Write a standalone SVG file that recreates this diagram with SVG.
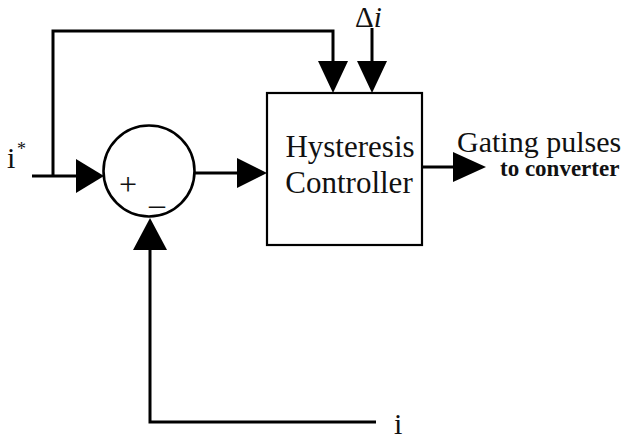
<svg xmlns="http://www.w3.org/2000/svg" width="633" height="439" viewBox="0 0 633 439">
<style>
.ln{fill:none;stroke:#000;stroke-width:3}
.ah{fill:#000;stroke:none}
.box{fill:#fff;stroke:#000;stroke-width:2.2}
.t{font-family:"Liberation Serif","Times New Roman",serif;fill:#111}
</style>
<rect width="633" height="439" fill="#fff"/>
<g id="connectors">
<polyline class="ln" points="32,176 78,176"/>
<polygon class="ah" points="104,176 76,159 76,193"/>
<polyline class="ln" points="53,176 53,31 333,31 333,63"/>
<polygon class="ah" points="333,93 318,61 348,61"/>
<polyline class="ln" points="372,28 372,63"/>
<polygon class="ah" points="372,93 357,61 387,61"/>
<polyline class="ln" points="195,173 240,173"/>
<polygon class="ah" points="267,173 237,158 237,188"/>
<polyline class="ln" points="422,167 456,167"/>
<polygon class="ah" points="486,167 453,152 453,182"/>
<polyline class="ln" points="376,422 150,422 150,248"/>
<polygon class="ah" points="150,218 133,250 167,250"/>
</g>
<g id="sum">
<circle cx="149" cy="171" r="45.5" fill="#fff" stroke="#000" stroke-width="2.6"/>
<text class="t" x="128" y="195" font-size="32" text-anchor="middle">+</text>
<text class="t" x="157" y="215" font-size="32" text-anchor="middle">–</text>
</g>
<g id="controller">
<rect class="box" x="267" y="93" width="155" height="152"/>
<text class="t" x="350" y="157" font-size="31" text-anchor="middle">Hysteresis</text>
<text class="t" x="349" y="193" font-size="31" text-anchor="middle">Controller</text>
</g>
<g id="labels">
<text class="t" x="7" y="168" font-size="30">i</text>
<text class="t" x="17" y="155" font-size="18">*</text>
<text class="t" x="355" y="27" font-size="29">Δ<tspan font-style="italic">i</tspan></text>
<text class="t" x="457" y="152" font-size="30">Gating pulses</text>
<text class="t" x="500" y="176" font-size="23" font-weight="bold" fill="#14143a">to converter</text>
<text class="t" x="394" y="434" font-size="30">i</text>
</g>
</svg>
